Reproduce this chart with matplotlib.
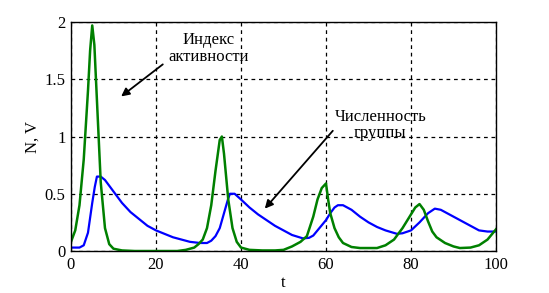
import numpy as np
import matplotlib
matplotlib.use("Agg")
import matplotlib.pyplot as plt

# индекс активности (зелёная)
t_act = [0, 1, 2, 3, 4, 4.5, 5, 5.5, 6, 7, 8, 9, 10, 12, 15, 20, 25, 27, 29, 30,
         31, 32, 33, 34, 35, 35.5, 36, 37, 38, 39, 40, 42, 45, 48, 50, 52, 54, 55.5,
         57, 58, 59, 60, 60.5, 61, 62, 63, 64, 66, 68, 72, 74, 76, 78, 80, 81, 82,
         83, 84, 85, 86, 88, 90, 91.5, 94, 96, 98, 100]
act = [0.08, 0.18, 0.4, 0.8, 1.4, 1.75, 1.97, 1.8, 1.4, 0.6, 0.2, 0.06, 0.02, 0.005, 0, 0, 0, 0.01, 0.03, 0.06,
       0.1, 0.2, 0.4, 0.7, 0.97, 1.0, 0.85, 0.45, 0.2, 0.08, 0.03, 0.01, 0.005, 0.005, 0.01, 0.04, 0.08, 0.13,
       0.3, 0.45, 0.55, 0.59, 0.45, 0.33, 0.2, 0.12, 0.07, 0.035, 0.026, 0.026, 0.05, 0.1, 0.2, 0.32, 0.38, 0.41,
       0.36, 0.26, 0.17, 0.12, 0.07, 0.04, 0.026, 0.03, 0.05, 0.1, 0.19]

# численность группы (синяя)
t_grp = [0, 2, 3, 4, 5, 5.6, 6.1, 7, 8, 10, 12, 14, 16, 18, 20, 22, 24, 26, 28, 30.4,
         32, 33, 34, 35, 36, 37, 37.4, 38.5, 40, 42, 44, 46, 48, 50, 52, 54.6, 56, 57,
         58, 60, 61, 62, 62.8, 64, 66, 68, 70, 72, 74, 76.7, 78, 80, 82, 84, 85.6, 87,
         90, 92, 94, 96, 98, 100]
grp = [0.03, 0.03, 0.05, 0.16, 0.42, 0.56, 0.65, 0.65, 0.62, 0.52, 0.42, 0.34, 0.28, 0.22, 0.18, 0.15, 0.12, 0.1, 0.08, 0.07,
       0.07, 0.09, 0.13, 0.2, 0.33, 0.46, 0.5, 0.5, 0.45, 0.38, 0.32, 0.27, 0.22, 0.18, 0.14, 0.11, 0.115, 0.135,
       0.18, 0.27, 0.33, 0.38, 0.40, 0.40, 0.36, 0.3, 0.25, 0.21, 0.18, 0.15, 0.155, 0.18, 0.25, 0.33, 0.37, 0.36,
       0.3, 0.26, 0.22, 0.18, 0.17, 0.17]

plt.rcParams['font.family'] = ['Liberation Serif', 'DejaVu Serif']

fig = plt.figure(figsize=(5.49, 2.93), dpi=100)
ax = fig.add_axes([0.1293, 0.1433, 0.9035 - 0.1293, 0.9249 - 0.1433])

ax.plot(t_grp, grp, color='#0000ff', lw=1.6)
ax.plot(t_act, act, color='#008000', lw=1.8)

ax.set_xlim(0, 100)
ax.set_ylim(0, 2)
ax.set_xticks([0, 20, 40, 60, 80, 100])
ax.set_yticks([0, 0.5, 1, 1.5, 2])
ax.set_yticklabels(['0', '0.5', '1', '1.5', '2'])
ax.tick_params(length=0, labelsize=12, pad=4)
ax.grid(True, color='black', ls=(0, (3, 3)), lw=0.9)
for s in ax.spines.values():
    s.set_linewidth(1.0)

ax.set_xlabel('t', fontsize=12, labelpad=2)
ax.set_ylabel('N, V', fontsize=12, labelpad=3)

arrow = dict(arrowstyle='-|>', color='black', lw=1.3, mutation_scale=12,
             shrinkA=0, shrinkB=0)
ax.text(32.3, 1.77, 'Индекс\nактивности', ha='center', va='center',
        fontsize=12, linespacing=1.1)
ax.annotate('', xy=(11.8, 1.35), xytext=(21.6, 1.63), arrowprops=arrow)
ax.text(72.8, 1.1, 'Численность\nгруппы', ha='center', va='center',
        fontsize=12, linespacing=0.95)
ax.annotate('', xy=(45.6, 0.37), xytext=(61.6, 1.05), arrowprops=arrow)

fig.savefig('out.png', dpi=100)
